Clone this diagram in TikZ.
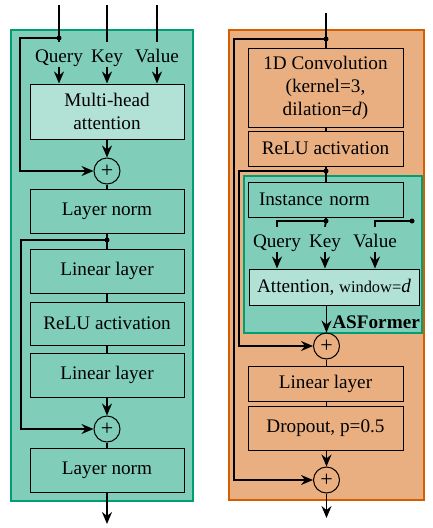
\documentclass[tikz,border=0pt]{standalone}
\usepackage{fontspec}
\setmainfont{Liberation Serif}
\usetikzlibrary{arrows.meta}
\definecolor{gborder}{HTML}{009E73}
\definecolor{gfill}{HTML}{80CEB9}
\definecolor{glight}{HTML}{B2E2D5}
\definecolor{oborder}{HTML}{D55E00}
\definecolor{ofill}{HTML}{EAAF80}
\begin{document}
\begin{tikzpicture}[x=1pt,y=-1pt,
  every node/.style={font=\fontsize{19.2}{23}\selectfont},
  box/.style={draw, line width=1pt, inner sep=0pt, align=center},
  lbl/.style={inner sep=0pt, text height=13pt, text depth=4.5pt, anchor=base},
  plus/.style={draw, circle, line width=1pt, minimum size=26pt, inner sep=0pt, font=\fontsize{22}{22}\selectfont},
  conn/.style={line width=1.8pt},
  arr/.style={line width=1.8pt, -{Stealth[length=12pt,width=10pt,inset=4pt]}},
  jdot/.style={circle, fill=black, inner sep=0pt, minimum size=5pt},
  panel/.style={line width=2.6pt}
]
\useasboundingbox (0,0) rectangle (432,528);

% ---------------- left panel ----------------
\draw[panel, draw=gborder, fill=gfill] (11,30) rectangle (193,501);

\node[box, fill=glight, minimum width=154pt, minimum height=55pt] (mha) at (107,111.5) {Multi-head\\attention};
\node[lbl] (lq) at (59,62) {Query};
\node[lbl] (lk) at (107,62) {Key};
\node[lbl] (lv) at (157,62) {Value};
\coordinate (qin) at (59,5);
\coordinate (kin) at (107,5);
\coordinate (vin) at (157,5);
\node[jdot] (qdot) at (59,38) {};
\node[plus] (p1) at (107,171) {+};
\node[box, minimum width=154pt, minimum height=44pt] (ln1) at (107,211) {Layer norm};
\node[jdot] (d2) at (107,240) {};
\node[box, minimum width=154pt, minimum height=44pt] (lin1) at (107,271) {Linear layer};
\node[box, minimum width=154pt, minimum height=43pt] (relu1) at (107,323.5) {ReLU activation};
\node[box, minimum width=154pt, minimum height=44pt] (lin2) at (107,375) {Linear layer};
\node[plus] (p2) at (107,429) {+};
\node[box, minimum width=154pt, minimum height=44pt] (ln2) at (107,470) {Layer norm};
\coordinate (outL) at (107,524);

\draw[conn] (qin) -- ([yshift=7pt]lq.north);
\draw[conn] (kin) -- ([yshift=7pt]lk.north);
\draw[conn] (vin) -- ([yshift=7pt]lv.north);
\draw[arr] (lq.south) -- (lq.south |- mha.north);
\draw[arr] (lk.south) -- (lk.south |- mha.north);
\draw[arr] (lv.south) -- (lv.south |- mha.north);
\draw[arr] (qdot.center) -- (20,38) |- (p1.west);
\draw[arr] (mha.south) -- (p1.north);
\draw[conn] (p1.south) -- (ln1.north);
\draw[conn] (ln1.south) -- (lin1.north);
\draw[arr] (d2.center) -- (21,240) |- (p2.west);
\draw[conn] (lin1.south) -- (relu1.north);
\draw[conn] (relu1.south) -- (lin2.north);
\draw[arr] (lin2.south) -- (p2.north);
\draw[conn] (p2.south) -- (ln2.north);
\draw[arr] (ln2.south) -- (outL);

% ---------------- right panel ----------------
\draw[panel, draw=oborder, fill=ofill] (229,30) rectangle (424,500);
\draw[line width=2.2pt, draw=gborder, fill=gfill] (244,176) rectangle (422,333);

\coordinate (rin) at (326,13);
\node[jdot] (rdot) at (326,39) {};
\node[box, fill=ofill, minimum width=155pt, minimum height=79pt] (conv) at (325.5,87.5)
  {1D Convolution\\(kernel=3,\\dilation=\textit{d})};
\node[box, fill=ofill, minimum width=155pt, minimum height=35pt] (relu2) at (325.5,148.5) {ReLU activation};
\node[jdot] (rdot2) at (326,171) {};
\node[box, fill=gfill, text width=133pt, inner xsep=11pt, align=left, minimum height=35pt] (inorm) at (325.5,199.5) {Instance norm};
\node[jdot] (kdot) at (326,221) {};
\node[jdot] (vdot) at (412,221) {};
\node[lbl] (rq) at (277,247) {Query};
\node[lbl] (rk) at (325,247) {Key};
\node[lbl] (rv) at (375,247) {Value};
\node[box, fill=glight, minimum width=170pt, minimum height=36pt] (att) at (334,287)
  {Attention, {\fontsize{16.4}{19}\selectfont window=}\textit{d}};
\node[anchor=base east, inner sep=0pt, font=\fontsize{19.2}{23}\selectfont\bfseries] (asf) at (420,328) {ASFormer};
\node[plus] (pA) at (326.5,346) {+};
\node[box, fill=ofill, minimum width=155pt, minimum height=35pt] (lin3) at (325.5,383.5) {Linear layer};
\node[box, fill=ofill, minimum width=155pt, minimum height=44pt] (drop) at (325.5,428) {Dropout, p=0.5};
\node[plus] (pB) at (326.5,480) {+};
\coordinate (outR) at (326.5,518);

\draw[conn] (rin) -- (rdot.center);
\draw[conn] (rdot.center) -- (rdot |- conv.north);
\draw[arr] (rdot.center) -- (234,39) |- (pB.west);
\draw[conn] (conv.south -| rdot) -- (relu2.north -| rdot);
\draw[conn] (relu2.south -| rdot2) -- (inorm.north -| rdot2);
\draw[arr] (rdot2.center) -- (239,171) |- (pA.west);
\draw[conn] (inorm.south -| kdot) -- (kdot.center);
\draw[conn] (kdot.center) -| ([yshift=7pt]rq.north);
\draw[conn] (kdot.center) -- ([yshift=7pt]rk.north);
\draw[conn] (vdot.center) -| ([yshift=7pt]rv.north);
\draw[arr] (rq.south) -- (rq.south |- att.north);
\draw[arr] (rk.south) -- (rk.south |- att.north);
\draw[arr] (rv.south) -- (rv.south |- att.north);
\draw[arr] (att.south -| pA) -- (pA.north);
\draw[conn] (pA.south) -- (pA.south |- lin3.north);
\draw[conn] (lin3.south -| pA) -- (drop.north -| pA);
\draw[arr] (drop.south -| pB) -- (pB.north);
\draw[arr] (pB.south) -- (outR);
\end{tikzpicture}
\end{document}
